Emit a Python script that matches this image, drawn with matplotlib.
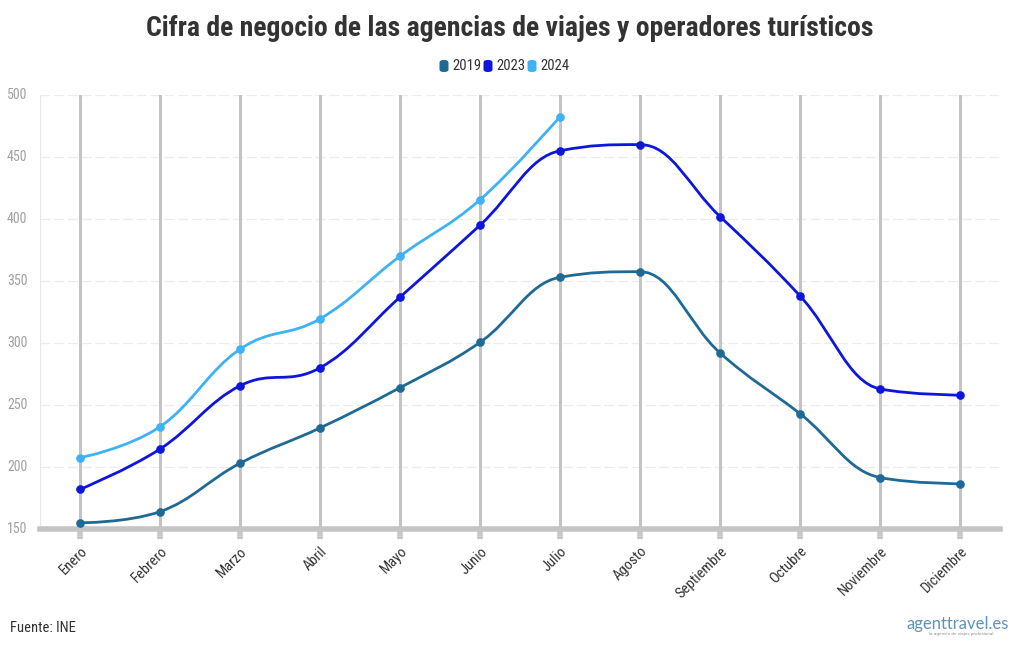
import matplotlib
matplotlib.use("Agg")
import matplotlib.pyplot as plt
from matplotlib import font_manager
from matplotlib.path import Path
from matplotlib.patches import PathPatch, FancyBboxPatch
import numpy as np

meses = ["Enero", "Febrero", "Marzo", "Abril", "Mayo", "Junio", "Julio",
         "Agosto", "Septiembre", "Octubre", "Noviembre", "Diciembre"]
v2019 = [155, 164, 203, 231.5, 264, 300.5, 353, 357.5, 292, 243, 191.5, 186.5]
v2023 = [182, 214.5, 265.5, 280, 337, 395, 455, 460, 402, 338, 263, 258]
v2024 = [207.5, 232.5, 295, 319.5, 370, 415.5, 482.5]
series_names = ["2019", "2023", "2024"]
series_vals = [v2019, v2023, v2024]
colors = ["#1f6a95", "#0e16dc", "#3fb2f3"]
yticks = [150, 200, 250, 300, 350, 400, 450, 500]

names = {f.name for f in font_manager.fontManager.ttflist}
cond = None
for c in ["Roboto Condensed", "Liberation Sans Narrow", "Open Sans Condensed", "Roboto"]:
    if c in names:
        cond = c
        break
plt.rcParams['font.family'] = [cond, 'DejaVu Sans']

fig = plt.figure(figsize=(10.2, 6.5), dpi=100)
ax = fig.add_axes([40/1020, 1-529/650, 960/1020, 434/650])
ax.set_xlim(-0.5, 11.5)
ax.set_ylim(150, 500)


def spline_path(xs, ys, smoothing=1.5):
    n = len(xs)
    sx = 80.0
    sy = 1.24
    px = [x * sx for x in xs]
    py = [y * sy for y in ys]
    left = [None] * n
    right = [None] * n
    for i in range(n):
        if i == 0 or i == n - 1:
            left[i] = (px[i], py[i])
            right[i] = (px[i], py[i])
            continue
        lx, ly = px[i-1], py[i-1]
        nx, ny = px[i+1], py[i+1]
        d = smoothing + 1
        lcx = (smoothing * px[i] + lx) / d
        lcy = (smoothing * py[i] + ly) / d
        rcx = (smoothing * px[i] + nx) / d
        rcy = (smoothing * py[i] + ny) / d
        if rcx != lcx:
            corr = ((rcy - lcy) * (rcx - px[i])) / (rcx - lcx) + py[i] - rcy
            lcy += corr
            rcy += corr
        if lcy > ly and lcy > py[i]:
            lcy = max(ly, py[i]); rcy = 2 * py[i] - lcy
        elif lcy < ly and lcy < py[i]:
            lcy = min(ly, py[i]); rcy = 2 * py[i] - lcy
        if rcy > ny and rcy > py[i]:
            rcy = max(ny, py[i]); lcy = 2 * py[i] - rcy
        elif rcy < ny and rcy < py[i]:
            rcy = min(ny, py[i]); lcy = 2 * py[i] - rcy
        left[i] = (lcx, lcy)
        right[i] = (rcx, rcy)
    verts = [(xs[0], ys[0])]
    codes = [Path.MOVETO]
    for i in range(1, n):
        c1 = right[i-1]
        c2 = left[i]
        verts += [(c1[0]/sx, c1[1]/sy), (c2[0]/sx, c2[1]/sy), (xs[i], ys[i])]
        codes += [Path.CURVE4] * 3
    return Path(verts, codes)

# grid
for y in yticks[1:]:
    ax.axhline(y, color="#ececec", lw=0.9, ls=(0, (8, 3)), zorder=0)
for i in range(len(meses)):
    ax.axvline(i, color="#c4c4c4", lw=2.2, zorder=1)
ax.axvline(-0.5, color="#e8e8e8", lw=1, zorder=0)

for name, vals, col in zip(series_names, series_vals, colors):
    xs = list(range(len(vals)))
    p = spline_path(xs, vals)
    ax.add_patch(PathPatch(p, fill=False, edgecolor=col, lw=2.0, zorder=3, capstyle='round', clip_on=False))
    ax.plot(xs, vals, 'o', color=col, ms=5.2, zorder=4, clip_on=False)

for s in ["top", "right", "left"]:
    ax.spines[s].set_visible(False)
ax.spines["bottom"].set_color("#c4c4c4")
ax.spines["bottom"].set_linewidth(4)
ax.spines["bottom"].set_zorder(2)

ax.set_xticks(range(len(meses)))
ax.set_xticklabels(meses, rotation=45, ha="right", rotation_mode="anchor",
                   fontsize=10.5, color="#333333")
ax.tick_params(axis="x", length=7, width=4, color="#c8c8c8", pad=4)
ax.set_yticks(yticks)
ax.set_yticklabels([str(t) for t in yticks], fontsize=10, color="#a0a0a0")
ax.tick_params(axis="y", length=0, pad=9)
for lab in ax.get_yticklabels():
    lab.set_verticalalignment("center")

fig.text(0.5, 1-28/650, "Cifra de negocio de las agencias de viajes y operadores turísticos",
         ha="center", va="center", fontsize=20, fontweight="bold", color="#333333")

# legend
lx = [444, 488, 532]
for name, col, x0 in zip(series_names, colors, lx):
    fig.patches.append(FancyBboxPatch(((x0-4.5)/1020, 1-72/650), 9/1020, 12/650,
                                      boxstyle="round,pad=0,rounding_size=0.004",
                                      transform=fig.transFigure, facecolor=col,
                                      edgecolor="none"))
    fig.text((x0+8)/1020, 1-66/650, name, ha="left", va="center", fontsize=10.5, color="#333333")

fig.text(10/1020, 1-628/650, "Fuente: INE", ha="left", va="center", fontsize=10.5, color="#333333")
fig.text(1009/1020, 1-624/650, "agenttravel.es", ha="right", va="center", fontsize=12,
         color="#5f93b8", family=["Lato", "DejaVu Sans"])
fig.text(961/1020, 1-634/650, "la agencia de viajes profesional", ha="center", va="center",
         fontsize=3, color="#8a8a8a", family=["DejaVu Sans"])

fig.savefig("out.png", dpi=100, facecolor="white")
